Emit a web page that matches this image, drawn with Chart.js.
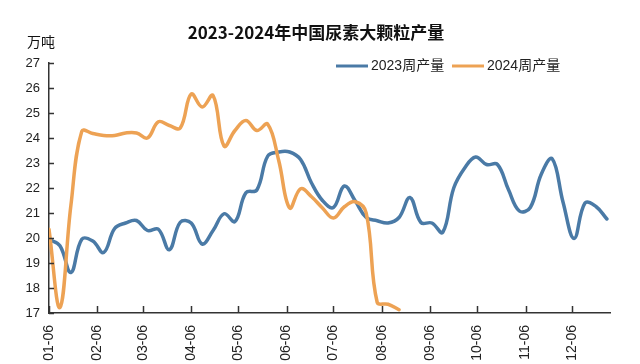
<!DOCTYPE html>
<html>
<head>
<meta charset="utf-8">
<script src="https://cdn.jsdelivr.net/npm/chart.js@4/dist/chart.umd.min.js"></script>
<style>
  html, body { margin: 0; padding: 0; background: #fff; overflow: hidden; }
  #wrap { width: 640px; height: 364px; position: relative; }
</style>
</head>
<body>
<div id="wrap"><canvas id="chart"></canvas></div>
<script>
// ---------- Data ----------
const titleText = "2023-2024年中国尿素大颗粒产量";
const unitText = "万吨";
const seriesNames = ["2023周产量", "2024周产量"];

// weekly values, first week = 01-06
const output2023 = [
  19.95, 19.69, 18.62, 19.95, 19.88, 19.42, 20.38, 20.6, 20.7, 20.3,
  20.35, 19.53, 20.63, 20.6, 19.76, 20.3, 20.97, 20.66, 21.81, 21.92,
  23.28, 23.44, 23.44, 23.14, 22.2, 21.5, 21.22, 22.08, 21.48, 20.82,
  20.69, 20.6, 20.82, 21.62, 20.62, 20.6, 20.23, 22.0, 22.8, 23.24,
  22.94, 22.94, 21.94, 21.08, 21.22, 22.55, 23.17, 21.42, 19.98, 21.4,
  21.26, 20.76
];
const output2024 = [
  20.35, 17.22, 21.3, 24.27, 24.18, 24.1, 24.1, 24.2, 24.2, 24.0,
  24.65, 24.5, 24.4, 25.76, 25.24, 25.7, 23.68, 24.3, 24.7, 24.3,
  24.55, 23.1, 21.2, 21.97, 21.65, 21.2, 20.8, 21.25, 21.45, 21.0,
  17.43, 17.35, 17.13
];

// x tick labels and their day offset from 01-06
const tickLabels = ["01-06", "02-06", "03-06", "04-06", "05-06", "06-06",
  "07-06", "08-06", "09-06", "10-06", "11-06", "12-06"];
const tickDays = [0, 31, 60, 91, 121, 152, 182, 213, 244, 274, 305, 335];

const blue = "#4a7aa6";
const orange = "#eda254";
const axisColor = "#333";

const toPoints = arr => arr.map((v, i) => ({ x: i * 7, y: v }));

// ---------- Plugins ----------
const innerTicks = {
  id: "innerTicks",
  afterDraw(chart) {
    const { ctx, chartArea: a, scales: { x, y } } = chart;
    ctx.save();
    ctx.strokeStyle = axisColor;
    ctx.lineWidth = 1.5;
    ctx.beginPath();
    x.ticks.forEach(t => {
      const px = Math.round(x.getPixelForValue(t.value)) + 0.5;
      ctx.moveTo(px, a.bottom);
      ctx.lineTo(px, a.bottom - 7);
    });
    y.ticks.forEach(t => {
      const py = Math.round(y.getPixelForValue(t.value)) + 0.5;
      ctx.moveTo(a.left, py);
      ctx.lineTo(a.left + 5, py);
    });
    ctx.stroke();
    ctx.restore();
  }
};

const headerText = {
  id: "headerText",
  afterDraw(chart) {
    const { ctx } = chart;
    ctx.save();
    ctx.fillStyle = "#111";
    ctx.textBaseline = "middle";

    ctx.font = "bold 17px 'Noto Sans CJK SC', sans-serif";
    ctx.textAlign = "center";
    ctx.fillText(titleText, 316, 33);

    ctx.font = "14px 'Noto Sans CJK SC', sans-serif";
    ctx.textAlign = "left";
    ctx.fillText(unitText, 27, 42);

    // legend
    const items = [
      { x: 336, color: blue, label: seriesNames[0] },
      { x: 452, color: orange, label: seriesNames[1] }
    ];
    ctx.font = "14px 'Liberation Sans', 'Noto Sans CJK SC', sans-serif";
    items.forEach(it => {
      ctx.strokeStyle = it.color;
      ctx.lineWidth = 3;
      ctx.beginPath();
      ctx.moveTo(it.x, 66);
      ctx.lineTo(it.x + 32, 66);
      ctx.stroke();
      ctx.fillStyle = "#222";
      ctx.fillText(it.label, it.x + 35, 66);
    });
    ctx.restore();
  }
};

// ---------- Chart ----------
new Chart(document.getElementById("chart"), {
  type: "line",
  data: {
    datasets: [
      { label: seriesNames[0], data: toPoints(output2023), borderColor: blue, order: 1 },
      { label: seriesNames[1], data: toPoints(output2024), borderColor: orange, order: 0 }
    ]
  },
  options: {
    responsive: true,
    maintainAspectRatio: false,
    animation: false,
    elements: {
      line: { borderWidth: 3.5, tension: 0.4, fill: false, borderCapStyle: "round" },
      point: { radius: 0 }
    },
    layout: { padding: { top: 63, right: 30, left: 0, bottom: 0 } },
    plugins: { legend: { display: false }, title: { display: false }, tooltip: { enabled: false } },
    scales: {
      x: {
        type: "linear",
        min: 0,
        max: 359,
        afterBuildTicks: s => { s.ticks = tickDays.map(v => ({ value: v })); },
        afterFit: s => { s.height = 51; },
        ticks: {
          autoSkip: false,
          maxRotation: 90,
          minRotation: 90,
          padding: 12,
          color: "#222",
          font: { size: 14, family: "'Liberation Sans', sans-serif" },
          callback: v => tickLabels[tickDays.indexOf(v)]
        },
        grid: { display: true, drawOnChartArea: false, drawTicks: false },
        border: { color: axisColor, width: 1.5 }
      },
      y: {
        min: 17,
        max: 27,
        afterFit: s => { s.width = 49; },
        ticks: {
          stepSize: 1,
          padding: 9,
          color: "#222",
          font: { size: 13, family: "'Liberation Sans', sans-serif" }
        },
        grid: { display: true, drawOnChartArea: false, drawTicks: false },
        border: { color: axisColor, width: 1.5 }
      }
    }
  },
  plugins: [innerTicks, headerText]
});
</script>
</body>
</html>
